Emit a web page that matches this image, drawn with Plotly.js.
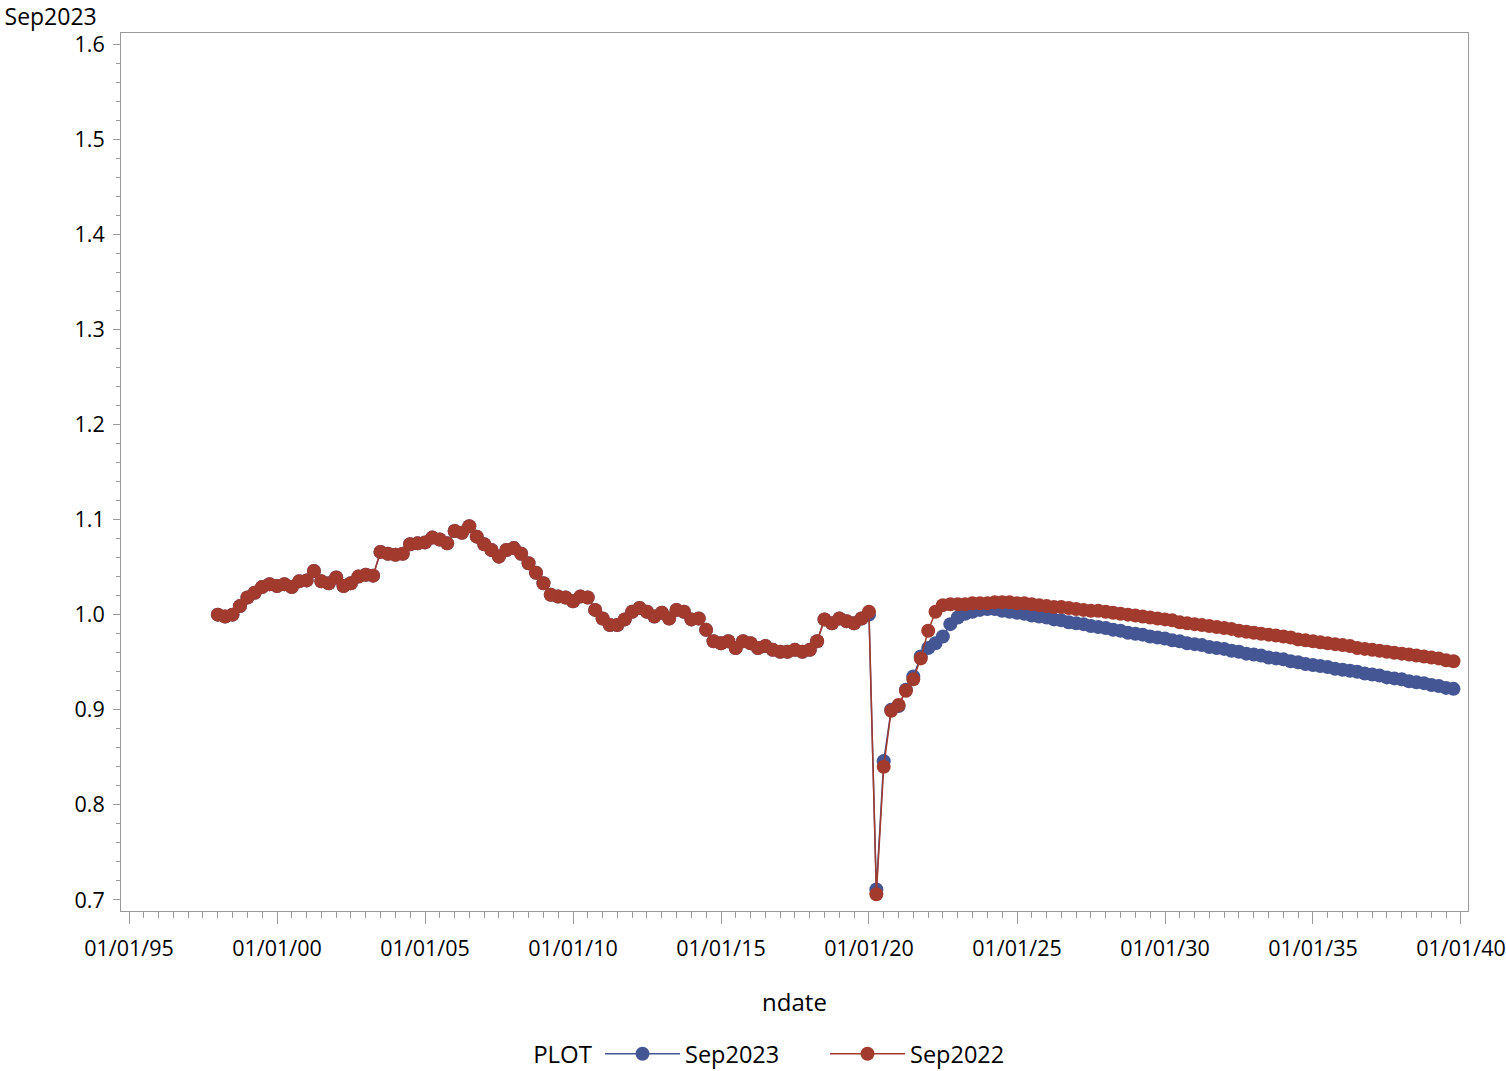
<!DOCTYPE html>
<html>
<head>
<meta charset="utf-8">
<script src="https://cdn.plot.ly/plotly-3.0.1.min.js"></script>
<style>
  html, body { margin: 0; padding: 0; background: #ffffff; }
  #chart { width: 1506px; height: 1071px; }
</style>
</head>
<body>
<div id="chart"></div>
<script>
// Quarterly series, first quarter 1998-01-01, last 2039-10-01
var startYear = 1998;

// Sep2023 (blue)
var sep2023 = [
  1.000, 0.998, 1.000, 1.009, 1.018, 1.023, 1.029, 1.032,
  1.030, 1.032, 1.029, 1.035, 1.036, 1.046, 1.035, 1.033,
  1.039, 1.030, 1.033, 1.040, 1.042, 1.041, 1.066, 1.064,
  1.063, 1.064, 1.074, 1.075, 1.076, 1.081, 1.079, 1.075,
  1.088, 1.086, 1.093, 1.082, 1.074, 1.068, 1.061, 1.068,
  1.070, 1.064, 1.054, 1.044, 1.033, 1.021, 1.019, 1.018,
  1.014, 1.019, 1.018, 1.005, 0.996, 0.989, 0.989, 0.995,
  1.003, 1.007, 1.003, 0.998, 1.002, 0.996, 1.005, 1.003,
  0.995, 0.996, 0.984, 0.972, 0.970, 0.972, 0.965, 0.972,
  0.970, 0.965, 0.967, 0.963, 0.961, 0.961, 0.963, 0.961,
  0.963, 0.972, 0.995, 0.991, 0.996, 0.993, 0.991, 0.996,
  1.000, 0.711, 0.846, 0.900, 0.904, 0.921, 0.935, 0.956,
  0.965, 0.970, 0.977, 0.990, 0.997, 1.001, 1.003, 1.005,
  1.006, 1.006, 1.004, 1.003, 1.002, 1.001, 0.999, 0.998,
  0.997, 0.995, 0.994, 0.992, 0.991, 0.990, 0.988, 0.987,
  0.986, 0.984, 0.983, 0.981, 0.980, 0.979, 0.977, 0.976,
  0.975, 0.973, 0.972, 0.970, 0.969, 0.968, 0.966, 0.965,
  0.964, 0.962, 0.961, 0.959, 0.958, 0.957, 0.955, 0.954,
  0.953, 0.951, 0.950, 0.948, 0.947, 0.946, 0.945, 0.943,
  0.942, 0.941, 0.940, 0.938, 0.937, 0.936, 0.934, 0.933,
  0.932, 0.930, 0.929, 0.928, 0.926, 0.925, 0.923, 0.922
];

// Sep2022 (red)
var sep2022 = [
  1.000, 0.998, 1.000, 1.009, 1.018, 1.023, 1.029, 1.032,
  1.030, 1.032, 1.029, 1.035, 1.036, 1.046, 1.035, 1.033,
  1.039, 1.030, 1.033, 1.040, 1.042, 1.041, 1.066, 1.064,
  1.063, 1.064, 1.074, 1.075, 1.076, 1.081, 1.079, 1.075,
  1.088, 1.086, 1.093, 1.082, 1.074, 1.068, 1.061, 1.068,
  1.070, 1.064, 1.054, 1.044, 1.033, 1.021, 1.019, 1.018,
  1.014, 1.019, 1.018, 1.005, 0.996, 0.989, 0.989, 0.995,
  1.003, 1.007, 1.003, 0.998, 1.002, 0.996, 1.005, 1.003,
  0.995, 0.996, 0.984, 0.972, 0.970, 0.972, 0.965, 0.972,
  0.970, 0.965, 0.967, 0.963, 0.961, 0.961, 0.963, 0.961,
  0.963, 0.972, 0.995, 0.991, 0.996, 0.993, 0.991, 0.996,
  1.003, 0.706, 0.840, 0.899, 0.905, 0.920, 0.932, 0.954,
  0.983, 1.003, 1.010, 1.011, 1.011, 1.011, 1.012, 1.012,
  1.012, 1.013, 1.013, 1.013, 1.012, 1.012, 1.011, 1.010,
  1.009, 1.008, 1.008, 1.007, 1.006, 1.005, 1.004, 1.004,
  1.003, 1.002, 1.001, 1.000, 0.999, 0.998, 0.997, 0.996,
  0.995, 0.994, 0.992, 0.991, 0.990, 0.989, 0.988, 0.987,
  0.986, 0.985, 0.983, 0.982, 0.981, 0.980, 0.979, 0.978,
  0.977, 0.976, 0.974, 0.973, 0.972, 0.971, 0.970, 0.969,
  0.968, 0.967, 0.965, 0.964, 0.963, 0.962, 0.961, 0.960,
  0.959, 0.958, 0.957, 0.956, 0.955, 0.954, 0.952, 0.951
];

var seriesNames = ["Sep2023", "Sep2022"];
var legendTitle = "PLOT";
var xTitle = "ndate";
var yTitle = "Sep2023";

function quarterDates(n) {
  var out = [];
  for (var i = 0; i < n; i++) {
    var y = startYear + Math.floor(i / 4);
    var m = 1 + 3 * (i % 4);
    out.push(y + "-" + (m < 10 ? "0" + m : m) + "-01");
  }
  return out;
}
var dates = quarterDates(sep2023.length);

var FONT = "Open Sans, Noto Sans, DejaVu Sans, sans-serif";
var AXIS_COLOR = "#9a9a9a";

var traces = [
  {
    x: dates, y: sep2023, name: seriesNames[0], type: "scatter", mode: "lines+markers",
    line: { color: "#445694", width: 1.5 },
    marker: { color: "#445694", size: 14, symbol: "circle" }
  },
  {
    x: dates, y: sep2022, name: seriesNames[1], type: "scatter", mode: "lines+markers",
    line: { color: "#A23A2E", width: 1.5 },
    marker: { color: "#A23A2E", size: 14, symbol: "circle" }
  }
];

var layout = {
  width: 1506, height: 1071,
  margin: { l: 121, r: 38, t: 33, b: 160 },
  paper_bgcolor: "#ffffff", plot_bgcolor: "#ffffff",
  font: { family: FONT, size: 21, color: "#000000" },
  title: {
    text: yTitle, xref: "container", yref: "container",
    x: 0.003, xanchor: "left", y: 0.9841, yanchor: "middle",
    pad: { t: 0, l: 0, r: 0, b: 0 },
    font: { size: 23, color: "#000000" }
  },
  showlegend: true,
  legend: {
    orientation: "h", xref: "container", yref: "container",
    x: 0.525, xanchor: "center", y: 0.0159, yanchor: "middle",
    title: { text: legendTitle, font: { size: 24 }, side: "left" },
    font: { size: 23.5 }, itemwidth: 75, entrywidth: 135, traceorder: "normal"
  },
  xaxis: {
    type: "date",
    range: ["1994-09-24", "2040-03-28"],
    tick0: "1995-01-01", dtick: "M60", tickformat: "%m/%d/%y",
    ticks: "outside", ticklen: 12, tickcolor: AXIS_COLOR, tickwidth: 1,
    minor: { dtick: "M6", ticks: "outside", ticklen: 6, tickcolor: AXIS_COLOR, tickwidth: 1, showgrid: false },
    showline: true, linecolor: AXIS_COLOR, linewidth: 1, mirror: true,
    showgrid: false, zeroline: false,
    ticklabelstandoff: 6,
    tickfont: { size: 21.5 },
    title: { text: xTitle, font: { size: 24 }, standoff: 33 }
  },
  yaxis: {
    range: [0.6884, 1.6116],
    tick0: 0.7, dtick: 0.1, tickformat: ".1f",
    ticks: "outside", ticklen: 7, tickcolor: AXIS_COLOR, tickwidth: 1,
    minor: { dtick: 0.02, ticks: "outside", ticklen: 4, tickcolor: AXIS_COLOR, tickwidth: 1, showgrid: false },
    showline: true, linecolor: AXIS_COLOR, linewidth: 1, mirror: true,
    showgrid: false, zeroline: false,
    ticklabelstandoff: 4,
    tickfont: { size: 21.5 }
  }
};

Plotly.newPlot("chart", traces, layout, { displayModeBar: false, staticPlot: true });
</script>
</body>
</html>
